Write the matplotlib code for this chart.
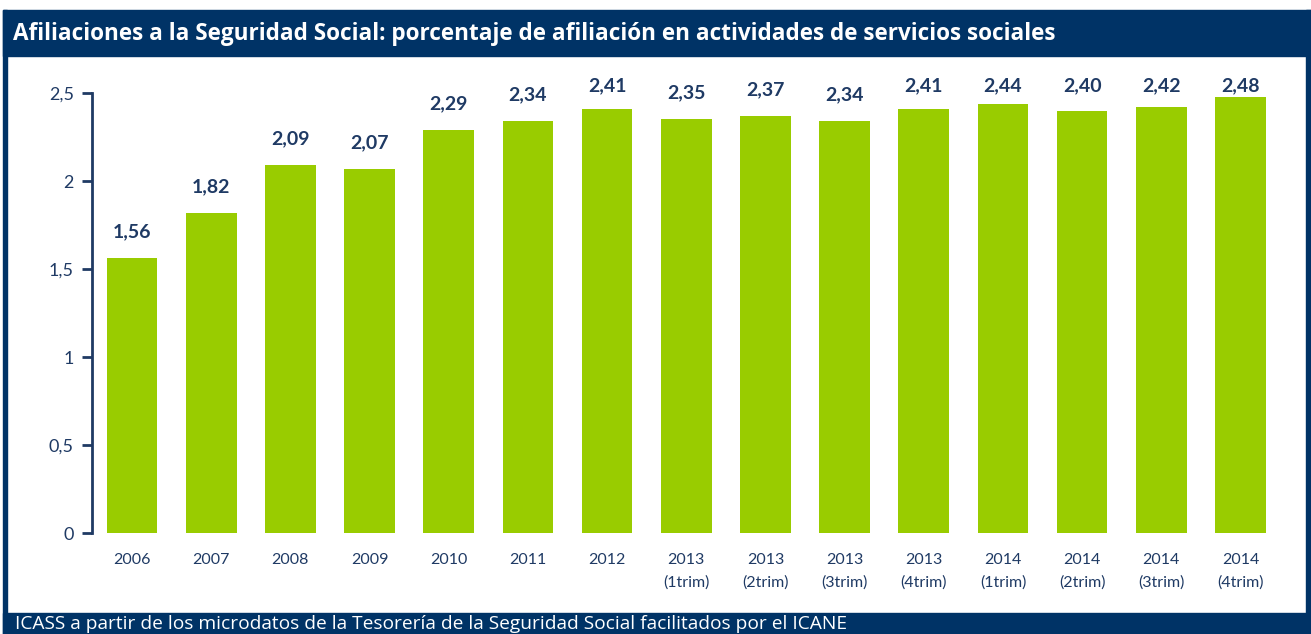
import matplotlib
matplotlib.use("Agg")
import matplotlib.pyplot as plt
from matplotlib.patches import Rectangle

categories = ["2006", "2007", "2008", "2009", "2010", "2011", "2012",
              "2013\n(1trim)", "2013\n(2trim)", "2013\n(3trim)", "2013\n(4trim)",
              "2014\n(1trim)", "2014\n(2trim)", "2014\n(3trim)", "2014\n(4trim)"]
values = [1.56, 1.82, 2.09, 2.07, 2.29, 2.34, 2.41, 2.35, 2.37, 2.34, 2.41,
          2.44, 2.40, 2.42, 2.48]
value_labels = ["1,56", "1,82", "2,09", "2,07", "2,29", "2,34", "2,41", "2,35",
                "2,37", "2,34", "2,41", "2,44", "2,40", "2,42", "2,48"]
yticks = [0, 0.5, 1, 1.5, 2, 2.5]
ytick_labels = ["0", "0,5", "1", "1,5", "2", "2,5"]
title = "Afiliaciones a la Seguridad Social: porcentaje de afiliación en actividades de servicios sociales"
source = "ICASS a partir de los microdatos de la Tesorería de la Seguridad Social facilitados por el ICANE"

navy = "#003366"
text_navy = "#1F3A64"
green = "#99CC00"

plt.rcParams['font.family'] = ['Lato', 'DejaVu Sans']

W, H = 1311, 634
fig = plt.figure(figsize=(W / 100, H / 100), dpi=100)


def px_rect(x0, y0, x1, y1, color):
    fig.patches.append(Rectangle((x0 / W, 1 - y1 / H), (x1 - x0) / W, (y1 - y0) / H,
                                 transform=fig.transFigure, color=color, zorder=0))


px_rect(3, 10, W, 56, navy)          # header band
px_rect(3, 10, 7, H, navy)           # left border
px_rect(1306, 10, W, H, navy)        # right border
px_rect(3, 613, W, H, navy)          # bottom band

renderer = fig.canvas.get_renderer()


def fitted_text(xpx, ypx, s, target_w, size, **kw):
    t = fig.text(xpx / W, 1 - ypx / H, s, fontsize=size, ha="left", va="center", **kw)
    w = t.get_window_extent(renderer).width
    t.set_fontsize(size * target_w / w)
    return t


fitted_text(13, 34, title, 1048, 14, color="white", fontweight="bold",
            family=["Open Sans", "DejaVu Sans"])
fitted_text(15, 624, source, 828, 13, color="white",
            family=["Open Sans", "DejaVu Sans"])

ax = fig.add_axes([92 / W, (H - 533) / H, 1196 / W, (533 - 93) / H])
x = list(range(len(values)))
ax.bar(x, values, width=0.64, color=green, zorder=2)
ax.set_xlim(-0.505, 14.6)
ax.set_ylim(0, 2.5)

for xi, v, lab in zip(x, values, value_labels):
    ylab = min(v + 0.15, 2.54)
    ax.text(xi, ylab, lab, ha="center", va="center", fontsize=14,
            fontweight="bold", color=text_navy)

ax.set_yticks(yticks)
ax.set_yticklabels(ytick_labels, fontsize=13, color=text_navy)
ax.set_xticks(x)
ax.set_xticklabels(categories, fontsize=11.5, color=text_navy, linespacing=1.75)
ax.tick_params(axis="x", length=0, pad=14.5)
ax.tick_params(axis="y", length=7, width=2, color=text_navy, pad=6)
for s in ["top", "right", "bottom"]:
    ax.spines[s].set_visible(False)
ax.spines["left"].set_color(text_navy)
ax.spines["left"].set_linewidth(2)
ax.patch.set_alpha(0)

fig.savefig("out.png", dpi=100)
